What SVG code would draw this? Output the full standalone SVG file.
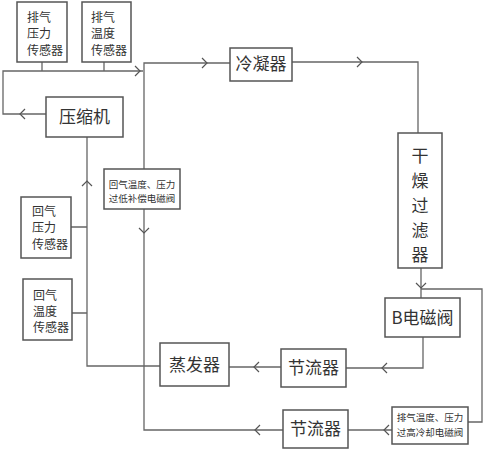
<svg xmlns="http://www.w3.org/2000/svg" width="484" height="450" viewBox="0 0 484 450">
<style>
.box{fill:#fff;stroke:#555;stroke-width:1.5}
.ln{fill:none;stroke:#666;stroke-width:1.3}
.ar{fill:none;stroke:#555;stroke-width:1.2}
.t{font-family:"Noto Sans CJK SC","Noto Sans CJK JP",sans-serif;fill:#333}
.big{font-size:17px}
.mid{font-size:12px}
.sm{font-size:9.5px}
</style>
<rect width="484" height="450" fill="#fff"/>
<g id="connectors">
<path class="ln" d="M42,62V71M104,62V71"/>
<path class="ln" d="M46,114H3V71H143"/>
<path class="ln" d="M144,169V63H230"/>
<path class="ln" d="M292,62H418V133"/>
<path class="ln" d="M421,268V298M421,289H482V422H468"/>
<path class="ln" d="M423,337V368H346"/>
<path class="ln" d="M281,367H229"/>
<path class="ln" d="M160,366H87V137"/>
<path class="ln" d="M71,227H87M72,313H87"/>
<path class="ln" d="M392,430H348"/>
<path class="ln" d="M283,430H144V209"/>
<path class="ar" d="M25,109L20,114L25,119"/>
<path class="ar" d="M135,66L140,71L135,76"/>
<path class="ar" d="M202,58L207,63L202,68"/>
<path class="ar" d="M357,57L362,62L357,67"/>
<path class="ar" d="M416,283L421,288L426,283"/>
<path class="ar" d="M387,363L382,368L387,373"/>
<path class="ar" d="M259,362L254,367L259,372"/>
<path class="ar" d="M82,186L87,181L92,186"/>
<path class="ar" d="M389,425L384,430L389,435"/>
<path class="ar" d="M260,425L255,430L260,435"/>
<path class="ar" d="M139,228L144,233L149,228"/>
</g>
<g id="exhaust-pressure-sensor">
<rect class="box" x="17" y="2" width="50" height="60"/>
<text class="t mid" x="27" y="22">排气</text>
<text class="t mid" x="27" y="38">压力</text>
<text class="t mid" x="27" y="55">传感器</text>
</g>
<g id="exhaust-temp-sensor">
<rect class="box" x="82" y="2" width="49" height="60"/>
<text class="t mid" x="91" y="22">排气</text>
<text class="t mid" x="91" y="38">温度</text>
<text class="t mid" x="91" y="55">传感器</text>
</g>
<g id="compressor">
<rect class="box" x="46" y="97" width="77" height="40"/>
<text class="t big" x="84.5" y="123" text-anchor="middle">压缩机</text>
</g>
<g id="condenser">
<rect class="box" x="230" y="48" width="62" height="33"/>
<text class="t big" x="261" y="70" text-anchor="middle">冷凝器</text>
</g>
<g id="dryer-filter">
<rect class="box" x="398" y="133" width="44" height="135"/>
<text class="t big" x="420" y="162" text-anchor="middle">干</text>
<text class="t big" x="420" y="187" text-anchor="middle">燥</text>
<text class="t big" x="420" y="212" text-anchor="middle">过</text>
<text class="t big" x="420" y="237" text-anchor="middle">滤</text>
<text class="t big" x="420" y="261" text-anchor="middle">器</text>
</g>
<g id="b-valve">
<rect class="box" x="385" y="298" width="75" height="39"/>
<text class="t big" x="422.5" y="324" text-anchor="middle">B电磁阀</text>
</g>
<g id="throttle-upper">
<rect class="box" x="281" y="349" width="65" height="38"/>
<text class="t big" x="313.5" y="374" text-anchor="middle">节流器</text>
</g>
<g id="evaporator">
<rect class="box" x="160" y="343" width="69" height="43"/>
<text class="t big" x="194.5" y="371" text-anchor="middle">蒸发器</text>
</g>
<g id="exhaust-cooling-valve">
<rect class="box" x="392" y="407" width="76" height="37"/>
<text class="t sm" x="430" y="421" text-anchor="middle">排气温度、压力</text>
<text class="t sm" x="430" y="436" text-anchor="middle">过高冷却电磁阀</text>
</g>
<g id="throttle-lower">
<rect class="box" x="283" y="410" width="65" height="38"/>
<text class="t big" x="315.5" y="435" text-anchor="middle">节流器</text>
</g>
<g id="return-compensation-valve">
<rect class="box" x="104" y="169" width="76" height="40"/>
<text class="t sm" x="142" y="188" text-anchor="middle">回气温度、压力</text>
<text class="t sm" x="142" y="202" text-anchor="middle">过低补偿电磁阀</text>
</g>
<g id="return-pressure-sensor">
<rect class="box" x="21" y="197" width="50" height="61"/>
<text class="t mid" x="32" y="216">回气</text>
<text class="t mid" x="32" y="232">压力</text>
<text class="t mid" x="32" y="249">传感器</text>
</g>
<g id="return-temp-sensor">
<rect class="box" x="23" y="279" width="49" height="61"/>
<text class="t mid" x="33" y="300">回气</text>
<text class="t mid" x="33" y="316">温度</text>
<text class="t mid" x="33" y="332">传感器</text>
</g>
</svg>
